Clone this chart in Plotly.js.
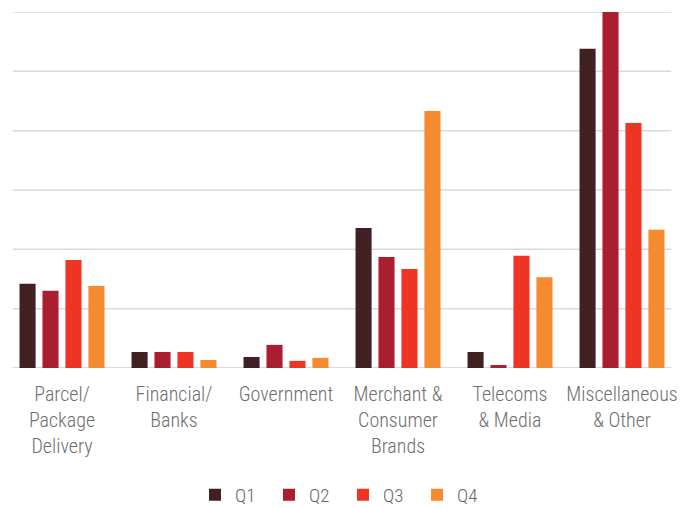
<!DOCTYPE html>
<html><head><meta charset="utf-8">
<script src="https://cdn.plot.ly/plotly-3.0.1.min.js"></script>
<style>
html,body{margin:0;padding:0;background:#fff}
.xtick text, .legendtext { font-stretch: 75% !important; }
</style>
</head><body><div id="chart" style="width:686px;height:508px"></div>
<script>
const categories = ["Parcel/<br>Package<br>Delivery","Financial/<br>Banks","Government","Merchant &<br>Consumer<br>Brands","Telecoms<br>& Media","Miscellaneous<br>& Other"];
const seriesNames = ["Q1","Q2","Q3","Q4"];
const q1 = [14.2, 2.7, 1.85, 23.6, 2.7, 53.8];
const q2 = [13.0, 2.7, 3.9, 18.7, 0.5, 60.2];
const q3 = [18.2, 2.7, 1.2, 16.7, 18.9, 41.3];
const q4 = [13.8, 1.35, 1.7, 43.3, 15.3, 23.3];
const gridValues = [10, 20, 30, 40, 50, 60];
const colors = ["#412023","#ab1e2f","#ee3524","#f58a2e"];
const values = [q1,q2,q3,q4];
const fontFam = "Roboto, sans-serif";
const data = seriesNames.map((n,i)=>({type:'bar', name:n, x:categories, y:values[i], marker:{color:colors[i]}}));
const shapes = gridValues.map(v=>({type:'line', xref:'paper', yref:'y', x0:0.01, x1:0.99, y0:v, y1:v, line:{color:'#d9d9d9', width:1.5}, layer:'below'}));
shapes.push({type:'line', xref:'paper', yref:'y', x0:0.01, x1:0.99, y0:0, y1:0, line:{color:'#d9d9d9', width:2}, layer:'below'});
const layout = {
  width:686, height:508,
  margin:{l:6, r:8, t:12, b:140},
  barmode:'group', bargap:0.18, bargroupgap:0.3,
  paper_bgcolor:'#fff', plot_bgcolor:'#fff',
  showlegend:true,
  shapes: shapes,
  legend:{orientation:'h', x:0.5, xanchor:'center', xref:'container', yref:'container', y:0.026, yanchor:'middle', font:{family:fontFam, size:19, color:'#666', weight:300}, itemwidth:30, entrywidth:29, entrywidthmode:'pixels', tracegroupgap:0},
  xaxis:{tickfont:{family:fontFam, size:20, color:'#6e6e6e', weight:300}, showline:false, ticks:'', automargin:false, ticklabelstandoff:12},
  yaxis:{range:[0,60], showticklabels:false, showgrid:false, zeroline:false, fixedrange:true}
};
Plotly.newPlot('chart', data, layout, {displayModeBar:false, staticPlot:true});
</script></body></html>
